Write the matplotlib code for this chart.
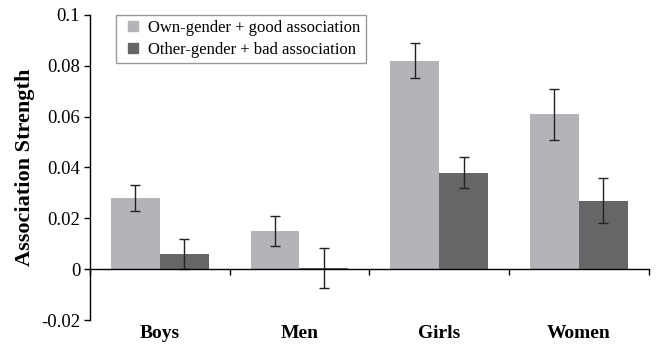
import matplotlib
matplotlib.use("Agg")
import matplotlib.pyplot as plt
from matplotlib.lines import Line2D
import numpy as np

# bar values and standard errors per group
groups = ["Boys", "Men", "Girls", "Women"]
own_good = [0.028, 0.015, 0.082, 0.061]
own_good_err = [0.005, 0.006, 0.007, 0.010]
other_bad = [0.006, 0.0005, 0.038, 0.027]
other_bad_err = [0.006, 0.008, 0.006, 0.009]
series_names = ["Own-gender + good association", "Other-gender + bad association"]
yticks = [-0.02, 0, 0.02, 0.04, 0.06, 0.08, 0.1]
ytick_labels = ["-0.02", "0", "0.02", "0.04", "0.06", "0.08", "0.1"]

light, dark = "#b3b4b8", "#666668"

plt.rcParams["font.family"] = ["Liberation Serif", "DejaVu Serif"]

fig = plt.figure(figsize=(6.56, 3.45), dpi=100)
ax = fig.add_axes([0.137, 0.072, 0.852, 0.885])

x = np.arange(len(groups))
w = 0.35
err_kw = dict(ecolor="#222222", elinewidth=1.0, capsize=3.5, capthick=1.0)
ax.bar(x - w / 2, own_good, w, yerr=own_good_err, color=light,
       error_kw=err_kw, zorder=2)
ax.bar(x + w / 2, other_bad, w, yerr=other_bad_err, color=dark,
       error_kw=err_kw, zorder=2)

ax.set_xlim(-0.5, len(groups) - 0.5)
ax.set_ylim(-0.02, 0.1)
ax.set_yticks(yticks)
ax.set_yticklabels(ytick_labels, fontsize=13.5)
ax.tick_params(axis="y", direction="out", length=4, width=1, pad=3)

# x axis runs along zero, ticks mark the group boundaries
ax.spines["bottom"].set_position(("data", 0))
ax.spines["top"].set_visible(False)
ax.spines["right"].set_visible(False)
ax.spines["left"].set_linewidth(1)
ax.spines["bottom"].set_linewidth(1)
ax.set_xticks(np.arange(len(groups) + 1) - 0.5)
ax.set_xticklabels([])
ax.tick_params(axis="x", direction="out", length=4, width=1)

for xi, g in zip(x, groups):
    ax.text(xi, -0.045, g, transform=ax.get_xaxis_transform(), ha="center",
            va="center", fontsize=14, fontweight="bold")

ax.set_ylabel("Association Strength", fontsize=16, fontweight="bold", labelpad=4)

# small square swatches, box stretched to a fixed width
handles = [Line2D([], [], linestyle="", marker="s", markersize=7,
                  markerfacecolor=c, markeredgecolor=c) for c in (light, dark)]
leg = ax.legend(handles, series_names, loc="upper left",
                bbox_to_anchor=(0.0465, 0.84, 0.447, 0.16), mode="expand",
                borderaxespad=0, fontsize=12, handlelength=1.4,
                handletextpad=0.2, fancybox=False, edgecolor="#999999",
                framealpha=1, borderpad=0.3, labelspacing=0.38)
leg.get_frame().set_linewidth(1)

fig.savefig("out.png", dpi=100)
